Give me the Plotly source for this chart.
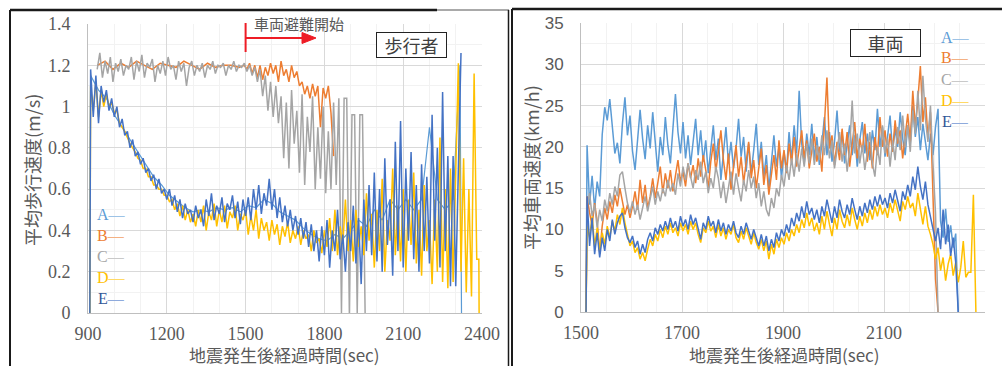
import plotly.graph_objects as go

# ---------------- colours ----------------
COL_A = "#5B9BD5"
COL_B = "#ED7D31"
COL_C = "#A5A5A5"
COL_D = "#FFC000"
COL_E = "#4472C4"

# ---------------- left panel: pedestrians (m/s) ----------------
# A (mostly hidden under E), sampled every 30 s from 910
ped_A = [1.15, 1.08, 1.04, 0.96, 0.90, 0.84, 0.78, 0.72, 0.66, 0.62,
         0.57, 0.54, 0.51, 0.49, 0.50, 0.49, 0.51, 0.50, 0.51, 0.49,
         0.52, 0.51, 0.55, 0.53, 0.49, 0.47, 0.45, 0.41, 0.38, 0.36,
         0.35, 0.38, 0.36, 0.40, 0.45, 0.42, 0.50, 0.45, 0.55, 0.50,
         0.55, 0.50, 0.55, 0.90, 0.55, 0.50, 0.55]
ped_A_tail_t = [2316, 2322]
ped_A_tail_v = [1.20, 0.0]

# B: every 30 s from 935 (under C), then every 10 s from 1495
ped_B_early = [1.20, 1.22, 1.18, 1.21, 1.19, 1.22, 1.20, 1.18, 1.21, 1.20,
               1.19, 1.22, 1.20, 1.18, 1.21, 1.19, 1.20, 1.20, 1.19]
ped_B_late = [1.20, 1.18, 1.21, 1.16, 1.20, 1.14, 1.20, 1.13, 1.19, 1.15,
              1.21, 1.16, 1.20, 1.12, 1.22, 1.15, 1.18, 1.12, 1.20, 1.14,
              1.17, 1.10, 1.12, 1.06, 1.10, 1.04, 1.11, 1.05, 1.10, 0.90,
              1.09, 1.04, 1.10, 0.97, 0.76]

# C: every 10 s from 935
ped_C = [1.18, 1.26, 1.14, 1.22, 1.16, 1.24, 1.12, 1.21, 1.17, 1.23,
         1.15, 1.20, 1.18, 1.24, 1.13, 1.22, 1.17, 1.25, 1.14, 1.21,
         1.19, 1.23, 1.12, 1.20, 1.16, 1.22, 1.15, 1.24, 1.18, 1.20,
         1.13, 1.22, 1.17, 1.21, 1.10, 1.19, 1.22, 1.15, 1.20, 1.17,
         1.21, 1.14, 1.20, 1.18, 1.22, 1.16, 1.20, 1.19, 1.21, 1.15,
         1.20, 1.18, 1.22, 1.17, 1.20, 1.19, 1.21, 1.17, 1.20, 1.15,
         1.19, 1.12, 1.18, 1.05, 1.15, 0.98, 1.12, 0.95, 1.10, 0.92,
         1.05, 0.75, 1.02, 0.70, 1.08, 0.82, 0.98, 0.68, 1.06, 0.62,
         0.95, 0.78, 1.05, 0.60, 0.90, 0.65, 1.00, 0.58, 0.88, 0.60,
         1.02, 0.62, 1.04, 0.00, 1.04, 1.04, 0.00, 0.96, 0.96, 0.00,
         0.96, 0.96, 0.00]

# D: every 10 s from 910
ped_D = [1.10, 0.98, 1.12, 0.95, 1.08, 1.00, 1.06, 1.00, 1.02,
         0.97, 0.98, 0.92, 0.90, 0.88, 0.85, 0.82, 0.80, 0.78, 0.75,
         0.74, 0.70, 0.70, 0.66, 0.66, 0.62, 0.62, 0.60, 0.60, 0.57,
         0.57, 0.54, 0.55, 0.50, 0.53, 0.47, 0.52, 0.45, 0.50, 0.44,
         0.48, 0.42, 0.50, 0.44, 0.52, 0.40, 0.49, 0.45, 0.53, 0.42,
         0.50, 0.44, 0.52, 0.41, 0.49, 0.46, 0.52, 0.40, 0.48, 0.45,
         0.50, 0.38, 0.47, 0.40, 0.50, 0.36, 0.46, 0.40, 0.44, 0.35,
         0.45, 0.38, 0.43, 0.33, 0.42, 0.37, 0.44, 0.34, 0.40, 0.36,
         0.42, 0.33, 0.40, 0.36, 0.38, 0.30, 0.40, 0.34, 0.36, 0.29,
         0.40, 0.32, 0.46, 0.30, 0.50, 0.28, 0.42, 0.33, 0.55, 0.30,
         0.45, 0.25, 0.50, 0.32, 0.42, 0.28, 0.58, 0.35, 0.48, 0.22,
         0.50, 0.30, 0.65, 0.20, 0.45, 0.35, 0.70, 0.28, 0.52, 0.25,
         0.60, 0.20, 0.55, 0.33, 0.68, 0.24, 0.50, 0.18, 0.62, 0.30,
         0.45, 0.14, 0.55, 0.20, 0.85, 0.15, 0.60, 0.12, 0.70, 0.15,
         0.65, 1.21, 0.20, 0.75, 0.10, 0.60, 0.08, 1.16, 0.26]
ped_D_tail_t = [2388, 2389]
ped_D_tail_v = [0.26, 0.0]

# E: every 10 s from 910
ped_E = [1.18, 0.95, 1.15, 0.92, 1.10, 1.02, 1.08, 0.98, 1.04,
         0.95, 1.00, 0.90, 0.94, 0.86, 0.88, 0.80, 0.84, 0.76, 0.78,
         0.72, 0.75, 0.68, 0.70, 0.64, 0.67, 0.60, 0.65, 0.58, 0.60,
         0.55, 0.60, 0.52, 0.57, 0.49, 0.55, 0.46, 0.53, 0.48, 0.50,
         0.44, 0.52, 0.46, 0.50, 0.42, 0.55, 0.47, 0.58, 0.45, 0.52,
         0.48, 0.56, 0.44, 0.53, 0.50, 0.57, 0.46, 0.54, 0.43, 0.55,
         0.47, 0.56, 0.45, 0.60, 0.50, 0.62, 0.48, 0.58, 0.52, 0.65,
         0.50, 0.60, 0.46, 0.56, 0.44, 0.52, 0.42, 0.50, 0.40, 0.47,
         0.38, 0.46, 0.36, 0.44, 0.32, 0.43, 0.30, 0.40, 0.25, 0.42,
         0.28, 0.45, 0.22, 0.40, 0.30, 0.50, 0.26, 0.38, 0.20, 0.44,
         0.30, 0.52, 0.24, 0.46, 0.14, 0.55, 0.30, 0.62, 0.28, 0.68,
         0.25, 0.60, 0.20, 0.75, 0.33, 0.55, 0.18, 0.83, 0.30, 0.93,
         0.22, 0.70, 0.35, 0.78, 0.26, 0.62, 0.20, 0.72, 0.30, 0.66,
         0.24, 0.96, 0.35, 0.80, 0.22, 1.07, 0.30, 0.76, 0.13, 0.76,
         0.13, 0.76, 1.26]

# ---------------- right panel: vehicles (km/h), every 5 s from 1512 ----------------
veh_A = [20.2, 13.0, 16.5, 12.5, 15.8, 14.0,
         21.5, 24.8, 23.2, 25.8, 22.0, 19.2, 20.5, 18.0, 22.8, 26.0, 21.4, 23.8,
         19.5, 17.2, 20.8, 24.5, 21.0, 18.5, 22.6, 19.8, 24.2, 20.4, 17.0, 21.2,
         19.0, 23.6, 20.2, 18.0, 22.4, 26.4, 21.8, 19.2, 23.0, 18.6, 21.4, 17.8,
         20.6, 23.4, 19.0, 22.0, 18.2, 20.8, 16.8, 19.6, 22.6, 18.4, 21.0, 16.0,
         19.2, 22.4, 18.0, 20.6, 17.4, 19.8, 23.4, 18.8, 21.2, 17.0, 20.4, 16.8,
         19.6, 22.8, 17.8, 20.6, 16.4, 19.0, 14.8, 18.2, 21.4, 17.6, 20.0, 16.2,
         19.4, 17.0, 21.8, 18.4, 22.6, 19.2, 26.8, 20.4, 18.0, 21.6, 19.0, 22.8,
         18.6, 21.2, 17.8, 20.4, 23.6, 19.0, 21.8, 18.2, 20.6, 24.4, 19.4, 21.8,
         18.0, 20.2, 22.6, 19.0, 21.4, 17.6, 20.8, 23.0, 19.2, 21.6, 18.4, 22.0,
         19.6, 24.6, 20.0, 22.4, 18.8, 21.2, 23.8, 19.4, 22.2, 20.0, 24.2, 21.0,
         19.0, 22.6, 20.4, 25.0, 21.2, 23.6, 19.6, 22.8, 20.6, 18.4, 21.6, 19.0,
         22.4, 24.6, 11.0, 9.0, 12.5, 8.5, 10.5, 7.8, 9.5, 0.0]

veh_B = [14.0, 12.0, 10.5, 13.2, 11.0, 7.2,
         10.4, 12.6, 11.2, 13.4, 12.0, 14.2, 12.8, 15.0, 13.6, 11.8, 13.0, 11.4,
         12.8, 14.6, 12.4, 16.0, 13.2, 15.4, 12.6, 14.0, 16.2, 13.8, 15.6, 17.6,
         14.4, 16.8, 15.0, 17.2, 14.6, 16.4, 18.4, 15.8, 17.0, 15.2, 18.0, 16.2,
         17.8, 15.6, 18.6, 16.4, 19.0, 17.2, 15.0, 18.2, 20.4, 17.0, 19.6, 22.0,
         18.4, 16.0, 19.2, 14.8, 17.6, 20.2, 16.4, 18.8, 15.6, 17.8, 20.6, 16.2,
         18.4, 15.0, 17.2, 19.8, 15.4, 17.8, 14.2, 16.6, 19.0, 16.0, 20.8, 17.4,
         19.6, 16.8, 20.4, 18.0, 21.2, 17.6, 19.8, 22.0, 18.6, 20.8, 17.4, 19.6,
         21.6, 18.2, 20.0, 17.0, 22.4, 28.4, 19.8, 21.4, 17.8, 20.6, 18.4, 22.2,
         19.0, 21.8, 17.6, 20.4, 23.0, 18.6, 21.0, 19.4, 22.8, 18.2, 20.6, 17.4,
         21.2, 19.0, 23.6, 20.0, 22.0, 18.8, 21.6, 19.4, 23.2, 20.4, 22.0, 18.6,
         21.4, 24.0, 20.6, 26.8, 22.4, 25.6, 29.8, 23.0, 26.0, 21.0, 24.2, 14.0,
         4.0, 0.0]

veh_C = [12.8, 14.4, 11.6, 13.0, 10.2, 12.4,
         11.0, 13.6, 12.2, 14.4, 13.0, 15.2, 14.0, 16.6, 17.0, 15.0, 13.2, 12.0,
         13.4, 11.8, 13.0, 11.2, 12.6, 14.0, 12.2, 13.6, 15.2, 13.0, 14.6, 13.4,
         15.0, 14.0, 16.0, 14.6, 15.6, 14.2, 16.8, 15.2, 17.6, 16.0, 18.0, 16.4,
         15.0, 17.2, 16.0, 18.2, 15.6, 17.0, 14.4, 16.2, 15.0, 17.6, 16.2, 13.8,
         15.8, 13.2, 15.4, 17.0, 14.2, 16.8, 15.0, 13.4, 16.0, 14.6, 17.2, 15.0,
         16.4, 13.8, 15.6, 12.8, 14.6, 12.4, 11.6, 13.8, 12.6, 15.0, 14.0, 16.6,
         15.2, 17.8, 16.0, 18.6, 16.4, 19.2, 17.0, 19.8, 17.6, 20.4, 18.0, 21.0,
         17.8, 20.2, 18.4, 21.4, 19.0, 22.0, 18.6, 20.8, 17.4, 19.6, 21.8, 18.2,
         20.4, 17.0, 19.8, 25.6, 19.2, 21.6, 18.0, 20.2, 17.2, 19.4, 21.8, 18.0,
         16.4, 20.0, 17.8, 22.6, 19.2, 21.0, 17.6, 20.8, 18.4, 22.4, 19.6, 23.8,
         20.0, 22.6, 19.4, 24.4, 21.6, 26.8, 22.0, 28.6, 23.4, 20.6, 25.0, 18.0,
         12.0, 0.0]

veh_D = [10.4, 9.0, 11.6, 8.0, 10.2, 7.4,
         9.6, 8.2, 10.4, 9.0, 11.0, 9.8, 11.8, 10.6, 12.6, 10.8, 9.2, 8.0,
         8.6, 7.2, 7.8, 6.4, 7.2, 6.2, 7.6, 8.8, 8.0, 9.4, 8.6, 10.0,
         9.0, 10.4, 9.4, 10.8, 9.6, 10.2, 9.2, 10.8, 9.8, 10.6, 9.4, 11.0,
         10.0, 10.8, 9.4, 8.4, 10.2, 9.6, 11.0, 9.8, 10.4, 9.0, 10.6, 9.2,
         10.2, 8.8, 10.0, 9.4, 10.6, 9.0, 8.4, 9.8, 8.8, 10.2, 9.2, 8.2,
         9.6, 8.4, 7.6, 8.8, 7.4, 8.6, 6.4, 8.2, 7.0, 8.8, 7.8, 9.0,
         8.2, 9.6, 8.6, 10.0, 9.2, 10.6, 9.6, 11.2, 10.2, 12.0, 10.4, 11.4,
         9.8, 10.8, 9.4, 11.6, 10.0, 12.2, 10.6, 9.2, 11.4, 10.0, 12.4, 11.0,
         10.2, 11.8, 10.4, 12.6, 11.2, 10.0, 11.6, 10.4, 12.0, 10.8, 12.4, 11.2,
         12.8, 11.6, 13.0, 11.8, 12.6, 11.4, 13.2, 12.0, 13.6, 12.2, 11.0, 13.4,
         12.4, 14.0, 12.6, 13.2, 11.6, 14.4, 12.4, 10.6, 12.8, 10.4, 9.4, 8.2,
         6.4, 7.8, 5.0, 6.6, 3.8, 5.8, 7.0, 4.4, 6.0, 3.6, 5.4, 8.6,
         4.2, 4.8, 4.8, 14.2, 0.0]

veh_E = [14.0, 8.0, 11.4, 7.0, 9.6, 6.6,
         9.0, 7.4, 10.0, 8.6, 11.2, 9.4, 10.8, 11.6, 12.0, 10.2, 9.0, 8.4,
         9.2, 7.8, 8.6, 7.0, 8.2, 7.2, 8.8, 9.6, 8.6, 10.2, 9.4, 10.6,
         9.8, 11.0, 10.0, 11.4, 10.2, 11.0, 9.8, 11.6, 10.4, 11.2, 10.0, 11.8,
         10.6, 11.4, 10.0, 8.8, 10.8, 10.0, 11.6, 10.4, 11.0, 9.6, 11.2, 9.8,
         10.8, 9.4, 10.6, 9.8, 11.0, 9.6, 9.0, 10.4, 9.4, 10.8, 9.8, 8.8,
         10.0, 9.0, 8.0, 9.4, 8.0, 9.2, 7.4, 8.8, 7.8, 9.6, 8.6, 10.0,
         9.2, 10.6, 9.6, 11.4, 10.4, 12.0, 11.0, 12.8, 11.4, 13.4, 11.8, 12.6,
         11.2, 12.4, 10.8, 12.8, 11.6, 13.6, 12.0, 10.8, 12.8, 11.4, 13.6, 12.2,
         11.4, 13.0, 11.8, 13.8, 12.4, 11.2, 12.8, 11.6, 13.2, 12.0, 13.6, 12.4,
         14.0, 12.8, 14.2, 13.0, 13.8, 12.6, 14.4, 13.2, 14.8, 13.4, 12.2, 14.6,
         13.6, 15.4, 14.0, 16.4, 14.8, 17.6, 15.2, 13.6, 15.8, 13.0, 11.6, 10.4,
         8.6, 10.2, 7.6, 12.4, 8.2, 10.6, 6.8, 9.0, 6.0, 0.0]

# ---------------- tick labels ----------------
ped_x_ticks = [900, 1200, 1500, 1800, 2100, 2400]
ped_y_ticks = [0, 0.2, 0.4, 0.6, 0.8, 1.0, 1.2, 1.4]
ped_y_labels = ["0", "0.2", "0.4", "0.6", "0.8", "1", "1.2", "1.4"]
veh_x_ticks = [1500, 1700, 1900, 2100, 2300]
veh_y_ticks = [0, 5, 10, 15, 20, 25, 30, 35]


def grid(start, step, n):
    return [start + step * i for i in range(n)]


fig = go.Figure()


def add(x, y, color, xa, ya, width=1.5):
    fig.add_trace(go.Scatter(x=x, y=y, mode="lines", xaxis=xa, yaxis=ya,
                             line=dict(color=color, width=width),
                             showlegend=False, hoverinfo="skip"))


# left panel traces (order A, B, C, D, E)
add([907] + grid(910, 30, len(ped_A)) + ped_A_tail_t, [0] + ped_A + ped_A_tail_v, COL_A, "x", "y", 1.2)
add(grid(935, 30, len(ped_B_early)) + grid(1495, 10, len(ped_B_late)), ped_B_early + ped_B_late, COL_B, "x", "y")
add(grid(935, 10, len(ped_C)), ped_C, COL_C, "x", "y")
add([907] + grid(910, 10, len(ped_D)) + ped_D_tail_t, [0] + ped_D + ped_D_tail_v, COL_D, "x", "y")
add([907] + grid(910, 10, len(ped_E)), [0] + ped_E, COL_E, "x", "y")

# right panel traces
for vals, col in [(veh_A, COL_A), (veh_B, COL_B), (veh_C, COL_C), (veh_D, COL_D), (veh_E, COL_E)]:
    add([1510] + grid(1512, 5, len(vals)), [0] + vals, col, "x2", "y2")

W, H = 1002, 366


def px(x):
    return x / W


def py(y):
    return 1 - y / H


TXT = "#595959"
GRID = "#D9D9D9"
MINOR = "#F2F2F2"
SERIF = "Liberation Serif, DejaVu Serif, Times New Roman, serif"
SANS = "Liberation Sans, Arial, sans-serif"
CJK = "Noto Sans CJK JP"

common_axis = dict(showline=True, linecolor="#BFBFBF", linewidth=1, zeroline=False,
                   ticks="", showgrid=True, gridcolor=GRID, gridwidth=1, automargin=False)

fig.update_layout(
    width=W, height=H, margin=dict(l=0, r=0, t=0, b=0, autoexpand=False),
    paper_bgcolor="white", plot_bgcolor="white",
    xaxis=dict(domain=[px(88), px(482)], range=[900, 2400], anchor="y",
               tickvals=ped_x_ticks, tickfont=dict(family=SERIF, size=18, color=TXT),
               minor=dict(dtick=100, tick0=900, showgrid=True, gridcolor=MINOR),
               ticklabelstandoff=4, **common_axis),
    yaxis=dict(domain=[py(313), py(24)], range=[0, 1.4], anchor="x",
               tickvals=ped_y_ticks, ticktext=ped_y_labels,
               tickfont=dict(family=SERIF, size=18, color=TXT),
               minor=dict(dtick=0.1, tick0=0, showgrid=True, gridcolor=MINOR),
               ticklabelstandoff=13, **common_axis),
    xaxis2=dict(domain=[px(581), px(985)], range=[1500, 2300], anchor="y2",
                tickvals=veh_x_ticks, tickfont=dict(family=SERIF, size=18, color=TXT),
                minor=dict(dtick=50, tick0=1500, showgrid=True, gridcolor=MINOR),
                ticklabelstandoff=4, **common_axis),
    yaxis2=dict(domain=[py(312), py(23)], range=[0, 35], anchor="x2",
                tickvals=veh_y_ticks, tickfont=dict(family=SANS, size=17, color=TXT),
                minor=dict(dtick=2.5, tick0=0, showgrid=True, gridcolor=MINOR),
                ticklabelstandoff=13, **common_axis),
)

shapes = []
# panel frames
shapes.append(dict(type="line", xref="paper", yref="paper", x0=px(10), x1=px(437), y0=py(10), y1=py(10),
                   line=dict(color="#1a1a1a", width=2.5)))
shapes.append(dict(type="line", xref="paper", yref="paper", x0=px(437), x1=px(509), y0=py(10), y1=py(10),
                   line=dict(color="#555555", width=1)))
shapes.append(dict(type="line", xref="paper", yref="paper", x0=px(10), x1=px(10), y0=py(10), y1=-0.05,
                   line=dict(color="#1a1a1a", width=2)))
shapes.append(dict(type="line", xref="paper", yref="paper", x0=px(508.5), x1=px(508.5), y0=py(10), y1=-0.05,
                   line=dict(color="#1a1a1a", width=1.5)))
shapes.append(dict(type="line", xref="paper", yref="paper", x0=px(512), x1=px(512), y0=py(9), y1=-0.05,
                   line=dict(color="#1a1a1a", width=2)))
shapes.append(dict(type="line", xref="paper", yref="paper", x0=px(512), x1=1.01, y0=py(9), y1=py(9),
                   line=dict(color="#1a1a1a", width=2.5)))
# vehicle evacuation start marker
shapes.append(dict(type="line", xref="x", yref="paper", x0=1500, x1=1500, y0=py(52), y1=py(23),
                   line=dict(color="#EE1C25", width=2)))
shapes.append(dict(type="line", xref="paper", yref="paper", x0=px(245), x1=px(304), y0=py(38), y1=py(38),
                   line=dict(color="#EE1C25", width=2)))
shapes.append(dict(type="path", xref="paper", yref="paper",
                   path=f"M {px(302)} {py(32.5)} L {px(316)} {py(38)} L {px(302)} {py(43.5)} Z",
                   fillcolor="#EE1C25", line=dict(color="#EE1C25", width=1)))
fig.update_layout(shapes=shapes)

ann = []


def text(x, y, s, size=18, color=TXT, family=CJK, angle=0, **kw):
    ann.append(dict(xref="paper", yref="paper", x=px(x), y=py(y), text=s, showarrow=False,
                    xanchor="center", yanchor="middle", textangle=angle,
                    font=dict(family=family, size=size, color=color), **kw))


text(284, 354, "地震発生後経過時間(sec)", size=17)
text(784, 354, "地震発生後経過時間(sec)", size=17)
text(32, 170, "平均歩行速度(m/s)", angle=-90)
text(531, 168, "平均車両速度(km/h)", angle=-90)
text(299, 24, "車両避難開始", size=15)
text(411.5, 45, "歩行者", size=18, color="#404040", bordercolor="#222222", borderwidth=1,
     borderpad=1, bgcolor="white", width=67, height=22)
text(885.5, 43, "車両", size=18, color="#404040", bordercolor="#222222", borderwidth=1,
     borderpad=1, bgcolor="white", width=67, height=24)

legend_items = [("A", COL_A, "#9DC3E6"), ("B", COL_B, "#F4B183"), ("C", COL_C, "#C9C9C9"),
                ("D", COL_D, "#FFD966"), ("E", "#2F5597", "#8FAADC")]
for i, (lab, c1, c2) in enumerate(legend_items):
    s = f"<span style='color:{c1}'>{lab}</span><span style='color:{c2}'>—</span>"
    text(111, 214 + 21 * i, s, size=16, family=SERIF)
    text(955, 37 + 21 * i, s, size=16, family=SERIF)

fig.update_layout(annotations=ann)

fig.write_html("out.html", config={"displayModeBar": False},
               post_script="document.body.style.margin='0';document.body.style.overflow='hidden';")
